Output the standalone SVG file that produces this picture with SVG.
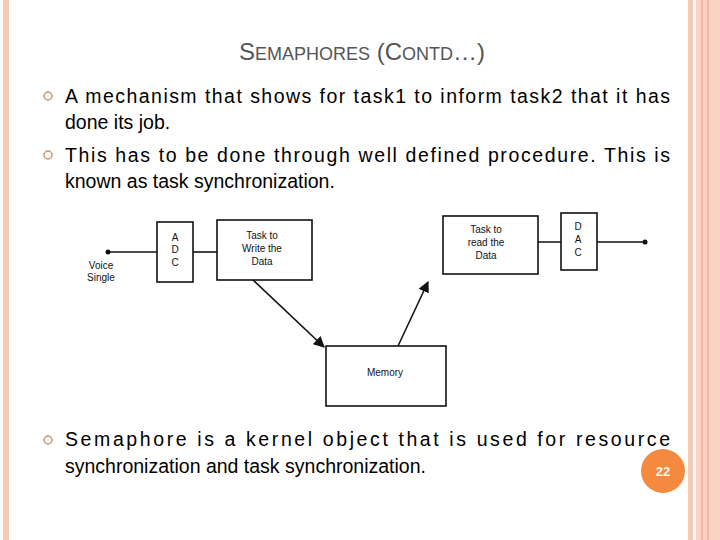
<svg xmlns="http://www.w3.org/2000/svg" width="720" height="540" viewBox="0 0 720 540">
<style>
.t{font-family:"Liberation Sans",Arial,sans-serif;font-size:19.5px;fill:#000}
.s{font-family:"Liberation Sans",Arial,sans-serif;font-size:10px;fill:#111}
.b{fill:#fff;stroke:#111;stroke-width:1.6}
.l{stroke:#111;stroke-width:1.6;fill:none}
.bul{fill:none;stroke:#c8946a;stroke-width:1.5}
</style>
<defs><marker id="a" viewBox="0 0 10 10" refX="9" refY="5" markerWidth="7" markerHeight="7" orient="auto"><path d="M0,0L10,5L0,10z" fill="#111"/></marker></defs>
<rect width="720" height="540" fill="#fff"/>
<rect x="3" y="0" width="6" height="540" fill="#f7c9b8"/>
<rect x="688" y="0" width="5" height="540" fill="#f7c9b8"/>
<rect x="696" y="0" width="24" height="540" fill="#fbd3c4"/>
<rect x="701" y="0" width="2" height="540" fill="#f4b8a2"/>
<rect x="707" y="0" width="2" height="540" fill="#f4b8a2"/>
<text x="362" y="60" text-anchor="middle" font-family="Liberation Sans,Arial,sans-serif" fill="#555" font-size="24">S<tspan font-size="18">EMAPHORES</tspan> (C<tspan font-size="18">ONTD</tspan>…)</text>
<circle cx="48" cy="96" r="4" class="bul"/>
<text class="t" x="65" y="103" textLength="605" lengthAdjust="spacing">A mechanism that shows for task1 to inform task2 that it has</text>
<text class="t" x="65" y="129">done its job.</text>
<circle cx="48" cy="155" r="4" class="bul"/>
<text class="t" x="65" y="162" textLength="605" lengthAdjust="spacing">This has to be done through well defined procedure. This is</text>
<text class="t" x="65" y="188">known as task synchronization.</text>
<g id="connectors">
<line class="l" x1="108" y1="252" x2="157" y2="252"/>
<line class="l" x1="193" y1="252" x2="217" y2="252"/>
<line class="l" x1="480" y1="242" x2="500" y2="242"/>
<line class="l" x1="530" y1="242" x2="572" y2="242"/>
<line class="l" x1="597" y1="242" x2="645" y2="242"/>
<circle cx="108" cy="252" r="2.5" fill="#111"/>
<circle cx="645" cy="242" r="2.5" fill="#111"/>
<line class="l" x1="252" y1="279" x2="324" y2="347" marker-end="url(#a)"/>
<line class="l" x1="398" y1="346" x2="428" y2="282" marker-end="url(#a)"/>
</g>
<text class="s" x="101" y="269" text-anchor="middle">Voice</text>
<text class="s" x="101" y="281" text-anchor="middle">Single</text>
<g id="adc"><rect class="b" x="157" y="222" width="36" height="60"/><text class="s" x="175" y="241" text-anchor="middle">A</text><text class="s" x="175" y="253" text-anchor="middle">D</text><text class="s" x="175" y="266" text-anchor="middle">C</text></g>
<g id="write"><rect class="b" x="217" y="220" width="95" height="60"/><text class="s" x="262" y="239" text-anchor="middle">Task  to</text><text class="s" x="262" y="252" text-anchor="middle">Write  the</text><text class="s" x="262" y="265" text-anchor="middle">Data</text></g>
<g id="read"><rect class="b" x="443" y="216" width="95" height="58"/><text class="s" x="486" y="233" text-anchor="middle">Task  to</text><text class="s" x="486" y="246" text-anchor="middle">read  the</text><text class="s" x="486" y="259" text-anchor="middle">Data</text></g>
<g id="dac"><rect class="b" x="561" y="213" width="36" height="57"/><text class="s" x="578" y="230" text-anchor="middle">D</text><text class="s" x="578" y="243" text-anchor="middle">A</text><text class="s" x="578" y="256" text-anchor="middle">C</text></g>
<g id="memory"><rect class="b" x="326" y="346" width="120" height="60"/><text class="s" x="385" y="376" text-anchor="middle">Memory</text></g>
<circle cx="48" cy="440" r="4" class="bul"/>
<text class="t" x="65" y="446" textLength="605" lengthAdjust="spacing">Semaphore is a kernel object that is used for resource</text>
<text class="t" x="65" y="473">synchronization and task synchronization.</text>
<circle cx="663" cy="471" r="22" fill="#f58a3f"/>
<text x="663" y="476" text-anchor="middle" font-family="Liberation Sans,Arial,sans-serif" font-size="13" font-weight="bold" fill="#fff4e0">22</text>
</svg>
